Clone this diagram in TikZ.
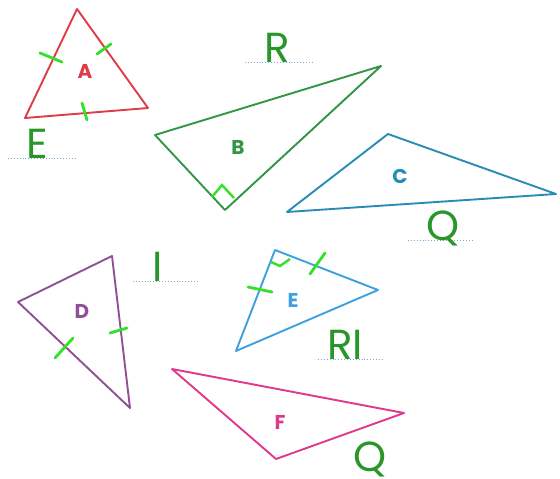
\documentclass[tikz,border=0pt]{standalone}
\usepackage{fontspec}
\setmainfont{Poppins}
\definecolor{tred}{RGB}{222,60,70}
\definecolor{tgreen}{RGB}{50,150,70}
\definecolor{tblue}{RGB}{40,140,180}
\definecolor{tpurple}{RGB}{145,80,150}
\definecolor{tlblue}{RGB}{60,160,225}
\definecolor{tpink}{RGB}{225,55,140}
\definecolor{tick}{RGB}{50,225,40}
\definecolor{lgreen}{RGB}{40,150,40}
\definecolor{dotc}{RGB}{120,170,210}
\begin{document}
\begin{tikzpicture}[x=1pt,y=-1pt,
  tri/.style={line width=1.9pt,line join=round},
  tickmark/.style={draw=tick,line width=2.8pt,line cap=round},
  lab/.style={font=\fontsize{20}{20}\selectfont\bfseries,inner sep=0pt},
  big/.style={font=\fontsize{42}{42}\selectfont,text=lgreen,inner sep=0pt,anchor=base},
  dotl/.style={draw=dotc,line width=0.9pt,dotted}]
\useasboundingbox[fill=white] (0,0) rectangle (560,479);
% A
\coordinate (a1) at (77,9); \coordinate (a2) at (25,118); \coordinate (a3) at (148,108);
\draw[tri,tred] (a1)--(a2)--(a3)--cycle;
\coordinate (at1) at (40,53); \coordinate (at2) at (62,62);
\coordinate (at3) at (97,54); \coordinate (at4) at (111,44);
\coordinate (at5) at (82,103); \coordinate (at6) at (87,120);
\draw[tickmark] (at1)--(at2); \draw[tickmark] (at3)--(at4); \draw[tickmark] (at5)--(at6);
\node[lab,text=tred] (la) at (85,71) {A};
% B
\coordinate (b1) at (155,135); \coordinate (b2) at (381,66); \coordinate (b3) at (225,210);
\draw[tri,tgreen] (b1)--(b2)--(b3)--cycle;
\coordinate (bm1) at (212,197); \coordinate (bm2) at (222,185); \coordinate (bm3) at (234,198);
\draw[draw=tick,line width=2.4pt] (bm1)--(bm2)--(bm3);
\node[lab,text=tgreen] (lb) at (238,147) {B};
% C
\coordinate (c1) at (388,134); \coordinate (c2) at (556,194); \coordinate (c3) at (287,212);
\draw[tri,tblue] (c1)--(c2)--(c3)--cycle;
\node[lab,text=tblue] (lc) at (400,176) {C};
% D
\coordinate (d1) at (112,256); \coordinate (d2) at (18,302); \coordinate (d3) at (130,408);
\draw[tri,tpurple] (d1)--(d2)--(d3)--cycle;
\coordinate (dt1) at (55,358); \coordinate (dt2) at (73,338);
\coordinate (dt3) at (110,333); \coordinate (dt4) at (127,328);
\draw[tickmark] (dt1)--(dt2); \draw[tickmark] (dt3)--(dt4);
\node[lab,text=tpurple] (ld) at (82,311) {D};
% E
\coordinate (e1) at (275,250); \coordinate (e2) at (378,290); \coordinate (e3) at (236,351);
\draw[tri,tlblue] (e1)--(e2)--(e3)--cycle;
\coordinate (em1) at (271,262); \coordinate (em2) at (280,266); \coordinate (em3) at (290,259);
\draw[draw=tick,line width=2.4pt] (em1)--(em2)--(em3);
\coordinate (et1) at (248,287); \coordinate (et2) at (272,292);
\coordinate (et3) at (310,274); \coordinate (et4) at (325,253);
\draw[tickmark] (et1)--(et2); \draw[tickmark] (et3)--(et4);
\node[lab,text=tlblue] (le) at (293,300) {E};
% F
\coordinate (f1) at (172,369); \coordinate (f2) at (404,413); \coordinate (f3) at (276,459);
\draw[tri,tpink] (f1)--(f2)--(f3)--cycle;
\node[lab,text=tpink] (lf) at (280,422) {F};
% answer letters
\coordinate (u1a) at (8,158); \coordinate (u1b) at (75,158);
\draw[dotl] (u1a)--(u1b);
\node[big] (wE) at (37,158) {E};
\coordinate (u2a) at (245,62); \coordinate (u2b) at (312,62);
\draw[dotl] (u2a)--(u2b);
\node[big] (wR) at (277,62) {R};
\coordinate (u3a) at (408,240); \coordinate (u3b) at (473,240);
\draw[dotl] (u3a)--(u3b);
\node[big] (wQ) at (443,240) {Q};
\coordinate (u4a) at (133,281); \coordinate (u4b) at (198,281);
\draw[dotl] (u4a)--(u4b);
\node[big] (wI) at (158,281) {I};
\coordinate (u5a) at (318,359); \coordinate (u5b) at (383,359);
\draw[dotl] (u5a)--(u5b);
\node[big] (wRI) at (345,359) {RI};
\node[big] (wQ2) at (370,471) {Q};
\end{tikzpicture}
\end{document}
